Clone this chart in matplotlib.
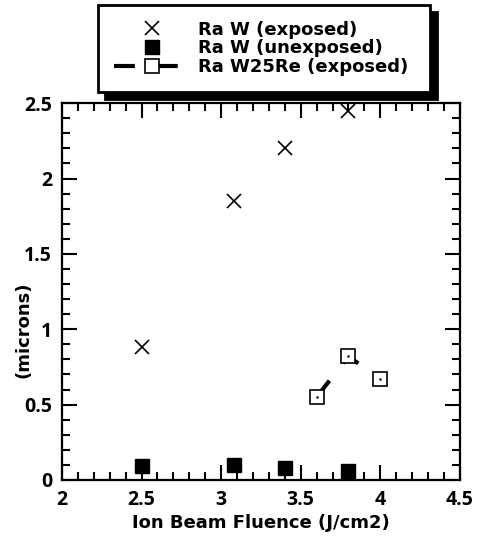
import numpy as np
import matplotlib
matplotlib.use("Agg")
import matplotlib.pyplot as plt
from matplotlib.ticker import MultipleLocator

# data
fluence_w = [2.5, 3.08, 3.4, 3.8]
ra_w_exposed = [0.88, 1.85, 2.2, 2.45]
ra_w_unexposed = [0.09, 0.10, 0.08, 0.06]
fluence_w25re = [3.6, 3.8, 4.0]
ra_w25re_exposed = [0.55, 0.82, 0.67]

plt.rcParams['font.family'] = ['DejaVu Sans']
plt.rcParams['font.weight'] = 'bold'

fig = plt.figure(figsize=(4.8, 5.36), dpi=100)
ax = fig.add_axes([0.129, 0.1045, 0.829, 0.703])

ax.plot(fluence_w, ra_w_exposed, 'x', color='black', ms=10, mew=1.2,
        label='Ra W (exposed)')
ax.plot(fluence_w, ra_w_unexposed, 's', color='black', ms=10,
        label='Ra W (unexposed)')
ax.plot(fluence_w25re, ra_w25re_exposed, color='black', lw=3,
        dashes=(5, 5.3), marker='s', ms=9.5,
        mfc='white', mec='black', mew=1.2, label='Ra W25Re (exposed)')
ax.plot(fluence_w25re, ra_w25re_exposed, '.', color='black', ms=1.5)

ax.set_xlim(2, 4.5)
ax.set_ylim(0, 2.5)
ax.xaxis.set_major_locator(MultipleLocator(0.5))
ax.xaxis.set_minor_locator(MultipleLocator(0.1))
ax.yaxis.set_major_locator(MultipleLocator(0.5))
ax.yaxis.set_minor_locator(MultipleLocator(0.1))
ax.yaxis.set_major_formatter(plt.FuncFormatter(lambda v, p: '%g' % v))
ax.xaxis.set_major_formatter(plt.FuncFormatter(lambda v, p: '%g' % v))
ax.tick_params(which='both', direction='in', top=True, right=True,
               width=1.5, labelsize=14, pad=7)
ax.tick_params(which='major', length=11)
ax.tick_params(which='minor', length=6)
for lab in ax.get_xticklabels() + ax.get_yticklabels():
    lab.set_family(['Open Sans', 'DejaVu Sans'])
for s in ax.spines.values():
    s.set_linewidth(1.6)

ax.set_xlabel('Ion Beam Fluence (J/cm2)', fontsize=13, fontweight='bold',
              labelpad=3)
ax.set_ylabel('(microns)', fontsize=13, fontweight='bold')
ax.yaxis.set_label_coords(-0.075, 0.40)

leg = ax.legend(loc='lower left', bbox_to_anchor=(0.0905, 1.029, 0.834, 0.2),
                mode='expand', frameon=True, fancybox=False,
                shadow={'color': 'black', 'alpha': 1, 'ox': 5, 'oy': -5},
                fontsize=13, handlelength=4.25, borderpad=0.88,
                labelspacing=0.05, borderaxespad=0, handletextpad=0.4)
leg.get_frame().set_edgecolor('black')
leg.get_frame().set_linewidth(2)

fig.savefig('out.png', dpi=100)
